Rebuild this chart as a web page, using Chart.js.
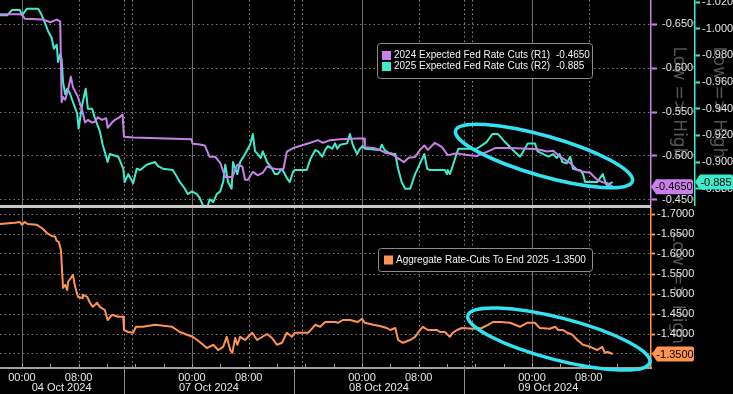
<!DOCTYPE html>
<html>
<head>
<meta charset="utf-8">
<script src="https://cdn.jsdelivr.net/npm/chart.js@4.4.1/dist/chart.umd.min.js"></script>
<style>
  html, body { margin: 0; padding: 0; background: #000; }
  #wrap { width: 733px; height: 394px; background: #000; overflow: hidden; }
  canvas { display: block; }
</style>
</head>
<body>
<div id="wrap">
  <canvas id="topChart" width="733" height="207"></canvas>
  <canvas id="bottomChart" width="733" height="187"></canvas>
</div>
<script>
// hours from 04 Oct 00:00 on the chart's trading clock (weekend taken out)
const r1Hours = [
  -3.1, 0, 0.4, 3.0, 4.0, 4.9, 5.4, 5.6, 5.8, 6.1, 6.5, 6.9, 7.2, 7.6, 7.9, 8.5, 8.9, 9.3, 9.9, 10.3,
  10.7, 11.3, 11.9, 12.1, 12.7, 13.1, 13.6, 14.2, 14.4, 15.7, 23.9, 24.1, 25.1, 25.8, 26.5, 27.3, 28.0, 28.7, 29.7, 30.4,
  31.1, 31.5, 31.9, 32.6, 33.3, 34.0, 34.6, 35.3, 36.0, 36.9, 37.4, 38.3, 40.7, 41.8, 42.5, 43.5, 44.9, 47.3, 48.3, 48.4,
  49.6, 50.5, 51.5, 52.2, 52.9, 53.4, 53.9, 54.6, 55.5, 56.2, 56.8, 57.3, 58.3, 59.3, 60.1, 61.4, 62.8, 64.2, 65.7, 66.8,
  68.9, 72.2, 73.1, 74.1, 75.0, 76.0, 77.4, 78.4, 79.2, 80.2, 81.2, 82.0, 82.7, 83.4
];
const r1Values = [
  -0.661, -0.661, -0.656, -0.655, -0.652, -0.655, -0.653, -0.561, -0.567, -0.564, -0.575, -0.590, -0.578, -0.572, -0.567, -0.552, -0.538, -0.541, -0.538, -0.539,
  -0.544, -0.541, -0.543, -0.532, -0.538, -0.541, -0.543, -0.547, -0.522, -0.521, -0.519, -0.514, -0.513, -0.512, -0.499, -0.499, -0.492, -0.476, -0.476, -0.490,
  -0.488, -0.473, -0.473, -0.482, -0.478, -0.481, -0.488, -0.486, -0.485, -0.485, -0.505, -0.509, -0.515, -0.518, -0.515, -0.518, -0.519, -0.520, -0.520, -0.510,
  -0.509, -0.507, -0.503, -0.503, -0.498, -0.496, -0.493, -0.498, -0.499, -0.507, -0.512, -0.507, -0.515, -0.510, -0.501, -0.503, -0.501, -0.500, -0.505, -0.509,
  -0.509, -0.508, -0.507, -0.505, -0.506, -0.499, -0.492, -0.484, -0.482, -0.481, -0.473, -0.470, -0.469, -0.465
];

const r2Hours = [
  -3.1, -2.1, -1.4, -0.3, 0, 0.7, 2.3, 2.8, 3.2, 3.7,
  4.2, 4.5, 4.9, 5.1, 5.4, 5.6, 5.8, 6.1, 6.4, 6.8,
  7.2, 7.8, 8.0, 8.5, 9.0, 9.3, 9.9, 10.3, 11.0, 11.4,
  12.1, 12.4, 13.6, 14.3, 14.5, 15.0, 15.7, 16.2, 16.7, 17.6,
  18.8, 19.2, 19.9, 21.3, 22.3, 23.0, 23.4, 24.0, 24.7, 25.1,
  25.6, 26.1, 26.5, 27.0, 27.5, 28.0, 28.4, 28.7, 29.1, 29.6,
  29.8, 30.4, 30.8, 31.5, 32.2, 32.6, 32.9, 33.3, 33.7, 34.0,
  34.6, 35.3, 35.7, 36.1, 36.7, 37.1, 37.4, 37.8, 38.3, 38.5,
  40.2, 40.7, 41.4, 41.8, 42.4, 42.8, 43.2, 43.8, 44.2, 44.5,
  44.9, 45.9, 46.3, 46.7, 47.3, 47.7, 48.1, 48.4, 50.5, 50.8,
  51.2, 52.0, 52.7, 53.1, 53.6, 54.1, 54.8, 55.5, 56.2, 56.8,
  57.2, 57.6, 59.7, 60.0, 60.1, 60.4, 60.8, 61.6, 62.8, 64.2,
  65.6, 66.4, 67.2, 68.2, 69.3, 70.3, 71.0, 71.4, 72.4, 72.8,
  73.6, 74.3, 75.0, 75.5, 75.9, 76.3, 76.9, 77.4, 77.8, 78.4,
  78.8, 79.2, 79.5, 81.2, 81.6, 82.0, 82.4, 82.7, 83.0, 83.4
];
const r2Values = [
  -1.010, -1.010, -1.014, -1.014, -1.010, -1.015, -1.015, -1.010, -1.005, -0.998,
  -0.993, -0.985, -0.988, -0.975, -0.981, -0.977, -0.960, -0.951, -0.955, -0.951,
  -0.945, -0.936, -0.925, -0.943, -0.955, -0.940, -0.940, -0.933, -0.923, -0.913,
  -0.900, -0.906, -0.904, -0.895, -0.885, -0.891, -0.884, -0.895, -0.894, -0.898,
  -0.900, -0.897, -0.895, -0.894, -0.885, -0.880, -0.876, -0.878, -0.876, -0.873,
  -0.867, -0.865, -0.872, -0.870, -0.876, -0.878, -0.885, -0.898, -0.885, -0.880,
  -0.900, -0.891, -0.900, -0.906, -0.913, -0.921, -0.908, -0.906, -0.903, -0.908,
  -0.900, -0.895, -0.891, -0.891, -0.895, -0.891, -0.888, -0.885, -0.893, -0.894,
  -0.894, -0.902, -0.909, -0.908, -0.904, -0.909, -0.912, -0.910, -0.914, -0.910,
  -0.913, -0.914, -0.921, -0.913, -0.906, -0.910, -0.912, -0.910, -0.909, -0.913,
  -0.909, -0.906, -0.906, -0.895, -0.885, -0.880, -0.880, -0.891, -0.899, -0.906,
  -0.895, -0.894, -0.894, -0.891, -0.894, -0.891, -0.897, -0.910, -0.910, -0.910,
  -0.915, -0.921, -0.921, -0.915, -0.909, -0.904, -0.910, -0.914, -0.914, -0.908,
  -0.906, -0.904, -0.906, -0.903, -0.906, -0.900, -0.899, -0.904, -0.895, -0.894,
  -0.894, -0.891, -0.885, -0.885, -0.888, -0.891, -0.884, -0.882, -0.884, -0.885
];

const aggHours = [
  -3.1, -1.0, -0.3, 0, 0.4, 0.8, 2.1, 2.8, 3.5, 4.2,
  4.7, 4.9, 5.2, 5.5, 5.8, 6.1, 6.4, 6.5, 6.9, 7.2,
  7.5, 7.9, 8.5, 8.6, 9.2, 9.6, 10.0, 10.6, 11.0, 11.7,
  12.1, 12.7, 13.6, 14.3, 14.4, 15.0, 15.7, 16.1, 17.1, 18.8,
  21.2, 22.3, 23.3, 24.1, 25.1, 26.1, 27.0, 27.7, 28.4, 28.9,
  29.4, 29.7, 30.1, 30.4, 30.8, 31.5, 32.5, 33.2, 34.6, 35.3,
  36.0, 36.7, 37.4, 38.1, 38.5, 40.4, 41.4, 42.1, 42.8, 44.2,
  44.6, 45.3, 46.3, 47.4, 48.0, 48.4, 49.6, 50.5, 51.5, 52.0,
  52.7, 53.1, 53.8, 54.8, 55.5, 56.2, 56.6, 57.3, 58.6, 59.0,
  59.7, 60.4, 60.8, 61.4, 62.1, 63.7, 64.9, 65.8, 66.5, 67.5,
  68.9, 70.3, 71.3, 72.4, 73.1, 74.5, 75.3, 75.7, 76.4, 77.0,
  77.7, 78.4, 79.2, 80.2, 81.2, 81.9, 82.3, 82.7, 83.4
];
const aggValues = [
  -1.675, -1.678, -1.680, -1.673, -1.680, -1.675, -1.673, -1.665, -1.653, -1.645,
  -1.643, -1.633, -1.630, -1.610, -1.515, -1.523, -1.510, -1.530, -1.540, -1.548,
  -1.518, -1.493, -1.490, -1.498, -1.493, -1.478, -1.468, -1.478, -1.468, -1.460,
  -1.435, -1.448, -1.443, -1.443, -1.410, -1.405, -1.403, -1.418, -1.418, -1.423,
  -1.418, -1.405, -1.398, -1.393, -1.380, -1.365, -1.373, -1.360, -1.368, -1.393,
  -1.360, -1.353, -1.390, -1.373, -1.393, -1.385, -1.403, -1.385, -1.400, -1.390,
  -1.373, -1.378, -1.403, -1.393, -1.403, -1.403, -1.423, -1.418, -1.430, -1.430,
  -1.428, -1.435, -1.435, -1.430, -1.438, -1.428, -1.423, -1.420, -1.415, -1.410,
  -1.415, -1.385, -1.378, -1.385, -1.393, -1.410, -1.418, -1.410, -1.410, -1.405,
  -1.405, -1.393, -1.403, -1.410, -1.415, -1.413, -1.415, -1.423, -1.430, -1.430,
  -1.428, -1.418, -1.428, -1.428, -1.415, -1.413, -1.418, -1.410, -1.410, -1.403,
  -1.398, -1.385, -1.373, -1.368, -1.360, -1.368, -1.353, -1.355, -1.350
];

const r1Ticks = [-0.65, -0.60, -0.55, -0.50, -0.45];
const r2Ticks = [-1.02, -1.00, -0.98, -0.96, -0.94, -0.92, -0.90, -0.88];
const aggTicks = [-1.70, -1.65, -1.60, -1.55, -1.50, -1.45, -1.40, -1.35];

const hourTicks = [0, 8, 24, 32, 48, 56, 72, 80];
const hourLabels = ['00:00', '08:00', '00:00', '08:00', '00:00', '08:00', '00:00', '08:00'];
const dayStarts = [0, 24, 48, 72];
const dottedHours = [8, 14.4, 15.5, 32, 38.4, 39.5, 56, 62.4, 63.5, 80];
const sessionBreaks = [14.4, 38.4, 62.4];
const minorTicks = [0, 4, 8, 12, 16, 20, 24, 28, 32, 36, 40, 44, 48, 52, 56, 60, 64, 68, 72, 76, 80, 84];
const dateCenters = [5.6, 26.4, 50.4, 74.3];
const dateLabels = ['04 Oct 2024', '07 Oct 2024', '08 Oct 2024', '09 Oct 2024'];

const r1Name = '2024 Expected Fed Rate Cuts (R1)';
const r2Name = '2025 Expected Fed Rate Cuts (R2)';
const aggName = 'Aggregate Rate-Cuts To End 2025';

// hand drawn rings, anchored on the data
const topRing = { hour: 73.7, value: -0.500, rx: 92, ry: 20, tilt: 16 };
const bottomRing = { hour: 75.8, value: -1.3875, rx: 94, ry: 21, tilt: 14.5 };

const PURPLE = '#c980e8';
const CYAN = '#3deccb';
const ORANGE = '#ff9452';
const RING = '#2fe3f2';
const FONT = '"Liberation Sans", Arial, sans-serif';
const LABEL = '#e6e6e6';

const toPoints = (hours, values) => hours.map((h, i) => ({ x: h, y: values[i] }));
const last = arr => arr[arr.length - 1];

const vline = (ctx, px, y0, y1) => {
  const x = Math.round(px) + 0.5;
  ctx.beginPath();
  ctx.moveTo(x, y0);
  ctx.lineTo(x, y1);
  ctx.stroke();
};

const watermark = (ctx, cx, cy) => {
  ctx.save();
  ctx.translate(cx, cy);
  ctx.rotate(Math.PI / 2);
  ctx.fillStyle = '#555555';
  ctx.font = '17px "DejaVu Sans"';
  ctx.textAlign = 'center';
  ctx.textBaseline = 'middle';
  ctx.fillText('Low => High', 0, 0);
  ctx.restore();
};

const drawRing = (chart, yScale, r) => {
  const ctx = chart.ctx;
  const cx = chart.scales.x.getPixelForValue(r.hour);
  const cy = yScale.getPixelForValue(r.value);
  ctx.save();
  ctx.strokeStyle = RING;
  ctx.lineWidth = 3.5;
  ctx.beginPath();
  ctx.ellipse(cx, cy, r.rx, r.ry, r.tilt * Math.PI / 180, 0, 2 * Math.PI);
  ctx.stroke();
  ctx.restore();
};

const drawTag = (ctx, x0, x1, cy, color, text) => {
  const h = 15, top = cy - h / 2, bot = cy + h / 2;
  ctx.save();
  ctx.fillStyle = color;
  ctx.beginPath();
  ctx.moveTo(x0, cy);
  ctx.lineTo(x0 + 5, top);
  ctx.lineTo(x1 - 2, top);
  ctx.quadraticCurveTo(x1, top, x1, top + 2);
  ctx.lineTo(x1, bot - 2);
  ctx.quadraticCurveTo(x1, bot, x1 - 2, bot);
  ctx.lineTo(x0 + 5, bot);
  ctx.closePath();
  ctx.fill();
  ctx.fillStyle = '#000';
  ctx.font = '11px ' + FONT;
  ctx.textAlign = 'center';
  ctx.textBaseline = 'middle';
  ctx.fillText(text, (x0 + x1) / 2 + 2, cy + 0.5);
  ctx.restore();
};

const legendBox = (ctx, bx, by, bw, bh, rows, sqX, textX, valueX) => {
  ctx.save();
  ctx.fillStyle = '#000';
  ctx.strokeStyle = '#8c8c8c';
  ctx.lineWidth = 1;
  ctx.beginPath();
  ctx.roundRect(bx + 0.5, by + 0.5, bw, bh, 3);
  ctx.fill();
  ctx.stroke();
  ctx.font = '10px ' + FONT;
  ctx.textBaseline = 'middle';
  rows.forEach(r => {
    ctx.fillStyle = r.color;
    ctx.fillRect(sqX, r.y - 4.5, 9, 9);
    ctx.fillStyle = '#f2f2f2';
    ctx.fillText(r.label, textX, r.y);
    ctx.fillText(r.value, valueX, r.y);
  });
  ctx.restore();
};

const sessionGrid = {
  id: 'sessionGrid',
  beforeDatasetsDraw(chart) {
    const { ctx, chartArea: a, scales: { x } } = chart;
    ctx.save();
    ctx.lineWidth = 1;
    ctx.strokeStyle = '#707070';
    dayStarts.forEach(h => vline(ctx, x.getPixelForValue(h), a.top, a.bottom));
    ctx.setLineDash([1.5, 3]);
    ctx.strokeStyle = '#8c8c8c';
    dottedHours.forEach(h => vline(ctx, x.getPixelForValue(h), a.top, a.bottom));
    ctx.restore();
  }
};

const xAxis = show => ({
  type: 'linear',
  display: show,
  min: -3.1,
  max: 88.8,
  afterBuildTicks: s => { s.ticks = hourTicks.map(v => ({ value: v })); },
  afterFit: s => { s.height = show ? 26 : 0; s.paddingLeft = 0; s.paddingRight = 0; },
  grid: { display: false, drawTicks: false },
  border: { display: true, color: '#a0a0a0', width: 2 },
  ticks: {
    autoSkip: false, maxRotation: 0, padding: 3, color: LABEL,
    font: { family: FONT, size: 11 },
    callback: (v, i) => hourLabels[i]
  }
});

const yAxis = (opts) => ({
  type: 'linear',
  axis: 'y',
  position: 'right',
  reverse: true,
  min: opts.min,
  max: opts.max,
  weight: opts.weight,
  afterBuildTicks: s => { s.ticks = opts.ticks.map(v => ({ value: v })); },
  afterFit: s => { s.width = opts.width; s.paddingTop = 0; s.paddingBottom = 0; },
  grid: {
    drawOnChartArea: opts.grid,
    color: '#7a7a7a',
    tickColor: opts.color,
    tickLength: opts.tickLength,
    tickWidth: 2
  },
  border: { color: opts.color, width: 1.5, dash: [1.5, 3] },
  ticks: {
    padding: opts.padding, color: LABEL,
    font: { family: FONT, size: 11 },
    callback: v => v.toFixed(opts.digits)
  }
});

const lineSet = (label, hours, values, axisId, color) => ({
  label,
  data: toPoints(hours, values),
  yAxisID: axisId,
  borderColor: color,
  borderWidth: 2,
  borderJoinStyle: 'round',
  pointRadius: 0,
  tension: 0
});

const baseOptions = {
  responsive: false,
  animation: false,
  devicePixelRatio: 1,
  events: [],
  plugins: { legend: { display: false }, tooltip: { enabled: false } }
};

new Chart(document.getElementById('topChart'), {
  type: 'line',
  data: {
    datasets: [
      lineSet(r1Name, r1Hours, r1Values, 'y1', PURPLE),
      lineSet(r2Name, r2Hours, r2Values, 'y2', CYAN)
    ]
  },
  options: {
    ...baseOptions,
    layout: { padding: { top: 0, bottom: 2, left: 0, right: 0 } },
    scales: {
      x: xAxis(false),
      y1: yAxis({ min: -0.6773, max: -0.4443, ticks: r1Ticks, width: 44, weight: 0, grid: true,
                  color: PURPLE, tickLength: 6, padding: 5, digits: 4 }),
      y2: yAxis({ min: -1.0215, max: -0.8678, ticks: r2Ticks, width: 38, weight: 1, grid: false,
                  color: CYAN, tickLength: 5, padding: 2, digits: 3 })
    }
  },
  plugins: [sessionGrid, {
    id: 'topDecor',
    beforeDraw(chart) {
      const { ctx, chartArea: a, scales: { y1, y2 } } = chart;
      ctx.save();
      ctx.fillStyle = '#000';
      ctx.fillRect(0, 0, chart.width, chart.height);
      ctx.restore();
      const mid = (a.top + a.bottom) / 2;
      watermark(ctx, y1.left + 27, mid);
      watermark(ctx, y2.left + 23, mid);
    },
    afterDatasetsDraw(chart) {
      drawRing(chart, chart.scales.y1, topRing);
      legendBox(chart.ctx, 377, 43, 215, 35, [
        { color: PURPLE, label: r1Name, value: last(r1Values).toFixed(4), y: 55.5 },
        { color: CYAN, label: r2Name, value: last(r2Values).toFixed(3), y: 66.5 }
      ], 382, 394, 556);
    },
    afterDraw(chart) {
      const { ctx, chartArea: a, scales: { y1, y2 } } = chart;
      ctx.save();
      ctx.fillStyle = '#c8c8c8';
      ctx.fillRect(0, a.bottom, a.right, 2);
      ctx.restore();
      drawTag(ctx, y1.left, y2.left - 2, y1.getPixelForValue(last(r1Values)), PURPLE, last(r1Values).toFixed(4));
      drawTag(ctx, y2.left, chart.width, y2.getPixelForValue(last(r2Values)), CYAN, last(r2Values).toFixed(3));
    }
  }]
});

new Chart(document.getElementById('bottomChart'), {
  type: 'line',
  data: {
    datasets: [lineSet(aggName, aggHours, aggValues, 'y3', ORANGE)]
  },
  options: {
    ...baseOptions,
    layout: { padding: { top: 1, bottom: 0, left: 0, right: 0 } },
    scales: {
      x: xAxis(true),
      y3: yAxis({ min: -1.715, max: -1.315, ticks: aggTicks, width: 82, weight: 0, grid: true,
                  color: ORANGE, tickLength: 4, padding: 2, digits: 4 })
    }
  },
  plugins: [sessionGrid, {
    id: 'bottomDecor',
    beforeDraw(chart) {
      const { ctx, chartArea: a, scales: { y3 } } = chart;
      ctx.save();
      ctx.fillStyle = '#000';
      ctx.fillRect(0, 0, chart.width, chart.height);
      ctx.restore();
      watermark(ctx, y3.left + 26, (a.top + a.bottom) / 2);
    },
    afterDatasetsDraw(chart) {
      legendBox(chart.ctx, 378, 41, 214, 23, [
        { color: ORANGE, label: aggName, value: last(aggValues).toFixed(4), y: 53 }
      ], 384, 396, 552);
    },
    afterDraw(chart) {
      const { ctx, chartArea: a, scales: { x, y3 } } = chart;
      ctx.save();
      ctx.fillStyle = '#c8c8c8';
      ctx.fillRect(0, 0, a.right, a.top);
      ctx.lineWidth = 1;
      ctx.strokeStyle = '#a0a0a0';
      minorTicks.forEach(h => vline(ctx, x.getPixelForValue(h), a.bottom - 4, a.bottom));
      ctx.strokeStyle = '#8c8c8c';
      sessionBreaks.forEach(h => vline(ctx, x.getPixelForValue(h), a.bottom, chart.height));
      ctx.fillStyle = LABEL;
      ctx.font = '11px ' + FONT;
      ctx.textAlign = 'center';
      ctx.textBaseline = 'middle';
      dateCenters.forEach((h, i) => ctx.fillText(dateLabels[i], x.getPixelForValue(h), a.bottom + 20));
      ctx.restore();
      drawRing(chart, y3, bottomRing);
      drawTag(ctx, y3.left + 1, y3.left + 43, y3.getPixelForValue(last(aggValues)), ORANGE, last(aggValues).toFixed(4));
    }
  }]
});
</script>
</body>
</html>
